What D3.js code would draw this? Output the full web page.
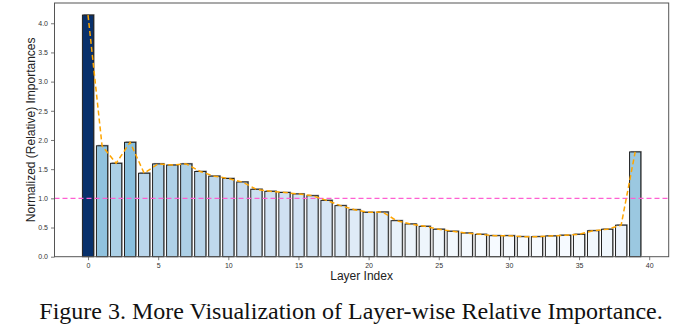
<!DOCTYPE html>
<html>
<head>
<meta charset="utf-8">
<script src="https://cdn.jsdelivr.net/npm/d3@7"></script>
<style>
  html, body { margin: 0; padding: 0; background: #fff; }
  svg { display: block; }
</style>
</head>
<body>
<svg id="chart" width="686" height="326"></svg>
<script>
// Relative importance of each transformer layer (normalized so the mean is ~1)
const layers = d3.range(40);
const importances = [
  4.14, 1.90, 1.60, 1.96, 1.43, 1.59, 1.57, 1.59, 1.46, 1.38,
  1.34, 1.28, 1.155, 1.12, 1.10, 1.075, 1.045, 0.965, 0.875, 0.805,
  0.76, 0.765, 0.617, 0.56, 0.52, 0.47, 0.435, 0.405, 0.383, 0.36,
  0.36, 0.343, 0.343, 0.355, 0.367, 0.383, 0.445, 0.47, 0.54, 1.795
];
const referenceLevel = 1.0;
const yTicks = [0, 0.5, 1.0, 1.5, 2.0, 2.5, 3.0, 3.5, 4.0];
const xTicks = [0, 5, 10, 15, 20, 25, 30, 35, 40];

const svg = d3.select("#chart");
const plot = { left: 54.5, right: 668.7, top: 3, bottom: 256.7 };

// Bars of width 0.8 with 5% margins on each side
const barW = 0.8;
const xMin = -barW / 2, xMax = layers.length - 1 + barW / 2;
const xPad = (xMax - xMin) * 0.05;
const x = d3.scaleLinear().domain([xMin - xPad, xMax + xPad]).range([plot.left, plot.right]);
const yMax = d3.max(importances) * 1.05;
const y = d3.scaleLinear().domain([0, yMax]).range([plot.bottom, plot.top]);

// Blues colormap normalized between min and max importance
const blues = d3.piecewise(d3.interpolateRgb, d3.schemeBlues[9]);
const cNorm = d3.scaleLinear().domain(d3.extent(importances)).range([0, 1]);

const g = svg.append("g");

// Bars with a soft offset shadow
const bars = layers.map(i => ({ i, v: importances[i] }));
g.selectAll("rect.shadow").data(bars).join("rect")
  .attr("class", "shadow")
  .attr("x", d => x(d.i - barW / 2) + 1)
  .attr("y", d => y(d.v) - 1)
  .attr("width", x(barW) - x(0))
  .attr("height", d => y(0) - y(d.v))
  .attr("fill", "#9a9a9a");

g.selectAll("rect.bar").data(bars).join("rect")
  .attr("class", "bar")
  .attr("x", d => x(d.i - barW / 2))
  .attr("y", d => y(d.v))
  .attr("width", x(barW) - x(0))
  .attr("height", d => y(0) - y(d.v))
  .attr("fill", d => blues(cNorm(d.v)))
  .attr("stroke", "#222")
  .attr("stroke-width", 1);

// Reference line at importance = 1
g.append("line")
  .attr("x1", plot.left).attr("x2", plot.right)
  .attr("y1", y(referenceLevel)).attr("y2", y(referenceLevel))
  .attr("stroke", "#ff5fd2").attr("stroke-width", 1.3)
  .attr("stroke-dasharray", "5,3");

// Trend line through bar tops
const line = d3.line().x(d => x(d.i)).y(d => y(d.v));
g.append("path")
  .datum(bars)
  .attr("d", line)
  .attr("fill", "none")
  .attr("stroke", "#ffa500")
  .attr("stroke-width", 1.5)
  .attr("stroke-dasharray", "5,3");

// Frame
svg.append("rect")
  .attr("x", plot.left).attr("y", plot.top)
  .attr("width", plot.right - plot.left).attr("height", plot.bottom - plot.top)
  .attr("fill", "none").attr("stroke", "#555").attr("stroke-width", 1);

// Axes
const yAxis = d3.axisLeft(y).tickValues(yTicks).tickFormat(d3.format(".1f")).tickSize(3.5).tickPadding(3);
const ya = svg.append("g").attr("transform", `translate(${plot.left},0)`).call(yAxis);
const xAxis = d3.axisBottom(x).tickValues(xTicks).tickFormat(d3.format("d")).tickSize(3.5).tickPadding(3);
const xa = svg.append("g").attr("transform", `translate(0,${plot.bottom})`).call(xAxis);
[ya, xa].forEach(a => {
  a.select(".domain").remove();
  a.selectAll(".tick line").attr("stroke", "#555").attr("stroke-width", 0.8);
  a.selectAll(".tick text").attr("fill", "#333")
    .style("font-family", "'Liberation Sans', Arial, sans-serif").style("font-size", "7px");
});

// Axis titles
svg.append("text")
  .attr("x", (plot.left + plot.right) / 2).attr("y", 280)
  .attr("text-anchor", "middle")
  .style("font-family", "'Liberation Sans', Arial, sans-serif").style("font-size", "12px")
  .attr("fill", "#222")
  .text("Layer Index");

svg.append("text")
  .attr("transform", `translate(35,${(plot.top + plot.bottom) / 2}) rotate(-90)`)
  .attr("text-anchor", "middle")
  .style("font-family", "'Liberation Sans', Arial, sans-serif").style("font-size", "12px")
  .attr("fill", "#222")
  .text("Normalized (Relative) Importances");

// Caption
svg.append("text")
  .attr("x", 351).attr("y", 319)
  .attr("text-anchor", "middle")
  .style("font-family", "'Liberation Serif', 'Times New Roman', serif").style("font-size", "24px")
  .attr("fill", "#111")
  .text("Figure 3. More Visualization of Layer-wise Relative Importance.");
</script>
</body>
</html>
